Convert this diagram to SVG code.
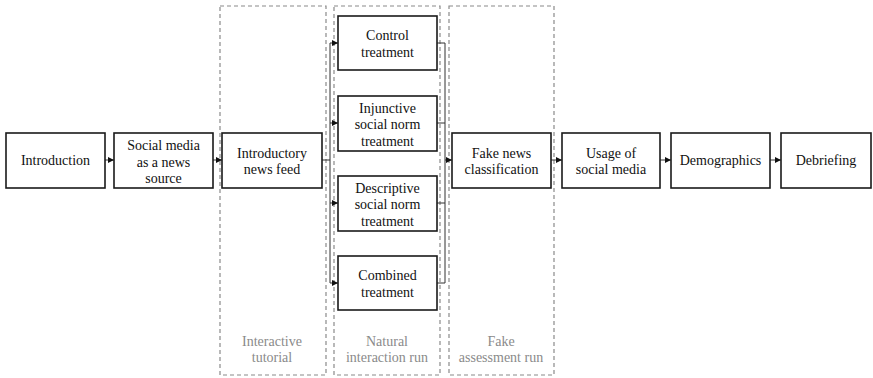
<svg xmlns="http://www.w3.org/2000/svg" width="873" height="378" viewBox="0 0 873 378" font-family="Liberation Serif, Tinos, Times New Roman, Noto Serif, DejaVu Serif, serif" font-size="14">
<defs>
<marker id="ah" markerUnits="userSpaceOnUse" markerWidth="6" markerHeight="6" refX="6" refY="3" orient="auto">
<path d="M0,0 L6,3 L0,6 z" fill="#111"/>
</marker>
<style>
.box{fill:#fff;stroke:#1a1a1a;stroke-width:1.6}
.grp{fill:none;stroke:#8a8a8a;stroke-width:1.2;stroke-dasharray:4 3}
.t{fill:#111;text-anchor:middle}
.g{fill:#8a8a8a;text-anchor:middle}
.c{fill:none;stroke:#333;stroke-width:1}
.ca{fill:none;stroke:#333;stroke-width:1;marker-end:url(#ah)}
</style>
</defs>
<rect width="873" height="378" fill="#fff"/>
<g id="phases">
<g id="phase-tutorial"><rect class="grp" x="220" y="6" width="106" height="369"/><text class="g" x="272" y="346">Interactive</text><text class="g" x="272" y="362">tutorial</text></g>
<g id="phase-natural"><rect class="grp" x="334" y="6" width="106" height="369"/><text class="g" x="387" y="346">Natural</text><text class="g" x="387" y="362">interaction run</text></g>
<g id="phase-fake"><rect class="grp" x="449" y="6" width="105" height="369"/><text class="g" x="501" y="346">Fake</text><text class="g" x="501" y="362">assessment run</text></g>
</g>
<g id="connectors">
<line class="ca" x1="105" y1="160" x2="114" y2="160"/>
<line class="ca" x1="213" y1="160" x2="222" y2="160"/>
<polyline class="c" points="322,160 330,160"/>
<line class="c" x1="330" y1="43" x2="330" y2="283"/>
<line class="ca" x1="330" y1="43" x2="338" y2="43"/>
<line class="ca" x1="330" y1="123" x2="338" y2="123"/>
<line class="ca" x1="330" y1="203" x2="338" y2="203"/>
<line class="ca" x1="330" y1="283" x2="338" y2="283"/>
<line class="c" x1="437" y1="43" x2="445" y2="43"/>
<line class="c" x1="437" y1="123" x2="445" y2="123"/>
<line class="c" x1="437" y1="203" x2="445" y2="203"/>
<line class="c" x1="437" y1="283" x2="445" y2="283"/>
<line class="c" x1="445" y1="43" x2="445" y2="283"/>
<line class="ca" x1="445" y1="160" x2="452" y2="160"/>
<line class="ca" x1="551" y1="160" x2="562" y2="160"/>
<line class="ca" x1="660" y1="160" x2="671" y2="160"/>
<line class="ca" x1="770" y1="160" x2="781" y2="160"/>
</g>
<g id="introduction"><rect class="box" x="6" y="133" width="99" height="55"/><text class="t" x="55.5" y="165">Introduction</text></g>
<g id="social-media-source"><rect class="box" x="114" y="133" width="99" height="55"/><text class="t" x="163.5" y="150">Social media</text><text class="t" x="163.5" y="166.5">as a news</text><text class="t" x="163.5" y="183">source</text></g>
<g id="introductory-feed"><rect class="box" x="222" y="133" width="100" height="55"/><text class="t" x="272" y="158">Introductory</text><text class="t" x="272" y="174">news feed</text></g>
<g id="control"><rect class="box" x="338" y="16" width="99" height="54"/><text class="t" x="387.5" y="40">Control</text><text class="t" x="387.5" y="56.5">treatment</text></g>
<g id="injunctive"><rect class="box" x="338" y="96" width="99" height="55"/><text class="t" x="387.5" y="112.5">Injunctive</text><text class="t" x="387.5" y="129">social norm</text><text class="t" x="387.5" y="145.5">treatment</text></g>
<g id="descriptive"><rect class="box" x="338" y="176" width="99" height="55"/><text class="t" x="387.5" y="192.5">Descriptive</text><text class="t" x="387.5" y="209">social norm</text><text class="t" x="387.5" y="225.5">treatment</text></g>
<g id="combined"><rect class="box" x="338" y="256" width="99" height="54"/><text class="t" x="387.5" y="280">Combined</text><text class="t" x="387.5" y="296.5">treatment</text></g>
<g id="fake-news-classification"><rect class="box" x="452" y="133" width="99" height="55"/><text class="t" x="501.5" y="158">Fake news</text><text class="t" x="501.5" y="174">classification</text></g>
<g id="usage"><rect class="box" x="562" y="133" width="98" height="55"/><text class="t" x="611" y="158">Usage of</text><text class="t" x="611" y="174">social media</text></g>
<g id="demographics"><rect class="box" x="671" y="133" width="99" height="55"/><text class="t" x="720.5" y="165">Demographics</text></g>
<g id="debriefing"><rect class="box" x="781" y="133" width="90" height="55"/><text class="t" x="826" y="165">Debriefing</text></g>
</svg>
